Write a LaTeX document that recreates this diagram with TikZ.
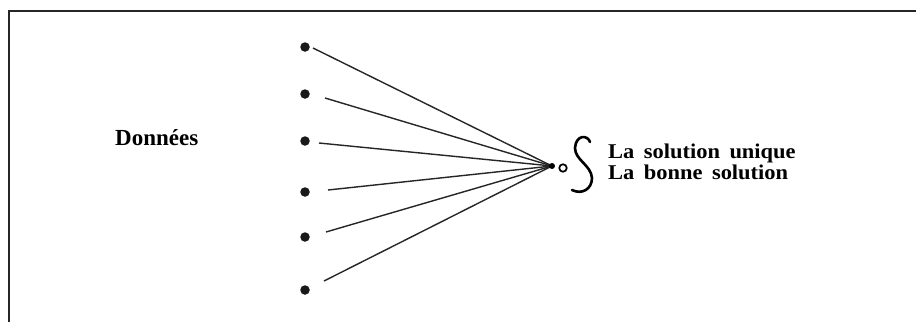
\documentclass[tikz,border=0pt]{standalone}
\usepackage{fontspec}
\setmainfont{Liberation Serif}
\begin{document}
\begin{tikzpicture}[x=1pt,y=-1pt,
  dotnode/.style={circle,fill=black!90,inner sep=0pt,minimum size=9.5pt},
  ray/.style={line width=1.4pt,black!85},
  lbl/.style={inner sep=0pt,font=\bfseries\fontsize{21}{21}\selectfont\addfontfeature{FakeStretch=1.07}}]
\useasboundingbox (0,0) rectangle (916,322);
\fill[white] (0,0) rectangle (916,322);
% frame
\draw[line width=1.8pt,black!85] (916,11) -- (9,11) -- (9,322);
% data points
\foreach \i/\y in {1/47,2/94,3/141,4/192,5/237,6/290}{
  \node[dotnode] (d\i) at (305,\y) {};
}
\coordinate (s1) at (313,48);
\coordinate (s2) at (325,98);
\coordinate (s3) at (319,143);
\coordinate (s4) at (328,190);
\coordinate (s5) at (326,232);
\coordinate (s6) at (324,281);
\coordinate (c) at (552,166);
\foreach \i in {1,...,6}{ \draw[ray] (s\i) -- (c); }
\fill (c) circle (3pt);
% small circle
\node[circle,draw,line width=1.7pt,inner sep=0pt,minimum size=7.5pt] (o) at (563,168) {};
% S bracket
\draw[line width=2.6pt,line cap=round] (590,142) .. controls (588,135) and (576,134) .. (575,148) .. controls (575,160) and (591,165) .. (592,178) .. controls (592,189) and (582,195) .. (572,190);
% texts
\node[lbl,anchor=base west,font=\bfseries\fontsize{23}{23}\selectfont] (donnees) at (115,145) {Données};
\node[lbl,anchor=base west] (t1) at (608,158) {La\hspace{0.45em}solution\hspace{0.45em}unique};
\node[lbl,anchor=base west] (t2) at (608,179) {La\hspace{0.45em}bonne\hspace{0.45em}solution};
\end{tikzpicture}
\end{document}
